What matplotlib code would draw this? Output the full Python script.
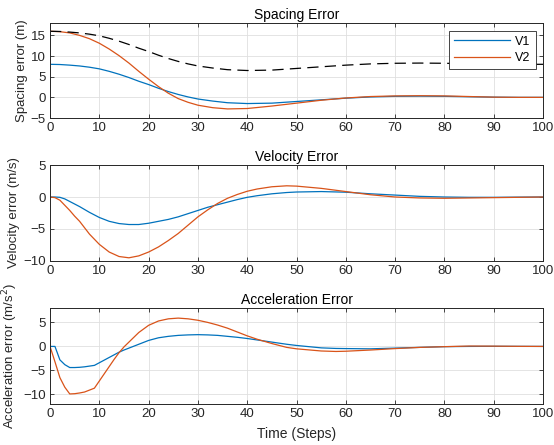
import matplotlib
matplotlib.use('Agg')
import matplotlib.pyplot as plt

plt.rcParams['font.family'] = ['Liberation Sans', 'DejaVu Sans']

blue = '#0072BD'
orange = '#D95319'

# spacing error
t_sp = [0, 2, 4, 6, 8, 10, 12, 14, 16, 18, 20, 22, 24, 26, 28, 30, 33, 36, 40, 45,
        50, 55, 60, 65, 70, 75, 80, 85, 90, 95, 100]
sp_v1 = [8.0, 7.95, 7.8, 7.6, 7.3, 6.9, 6.3, 5.6, 4.8, 3.9, 3.1, 2.2, 1.4, 0.7, 0.1, -0.4,
         -0.9, -1.3, -1.5, -1.4, -1.0, -0.6, -0.2, 0.1, 0.25, 0.3, 0.25, 0.15, 0.05, 0.0, 0.0]
sp_v2 = [16.0, 15.9, 15.6, 15.0, 14.2, 13.1, 11.7, 10.1, 8.3, 6.3, 4.4, 2.6, 1.0, -0.3, -1.2, -1.9,
         -2.5, -2.8, -2.7, -2.1, -1.4, -0.7, -0.15, 0.2, 0.35, 0.4, 0.35, 0.2, 0.05, 0.0, 0.0]
sp_ref = [16.0, 15.95, 15.8, 15.6, 15.3, 14.9, 14.3, 13.6, 12.8, 11.9, 11.1, 10.2, 9.4, 8.7, 8.1, 7.6,
          7.1, 6.7, 6.5, 6.6, 7.0, 7.4, 7.8, 8.1, 8.25, 8.3, 8.25, 8.15, 8.05, 8.0, 8.0]

# velocity error
t_v = [0, 1, 2, 3, 4, 5, 6, 8, 10, 12, 14, 16, 18, 20, 22, 24, 26, 28, 30, 32, 34, 36, 38,
       40, 42, 45, 48, 50, 55, 60, 65, 70, 75, 80, 85, 90, 95, 100]
v_v1 = [0, 0, -0.05, -0.3, -0.7, -1.1, -1.5, -2.4, -3.2, -3.8, -4.15, -4.3, -4.3, -4.1, -3.8,
        -3.5, -3.1, -2.6, -2.1, -1.6, -1.2, -0.8, -0.4, -0.05, 0.2, 0.5, 0.7, 0.78, 0.85, 0.75,
        0.5, 0.3, 0.1, 0.0, -0.05, -0.05, -0.02, 0]
v_v2 = [0, -0.1, -0.5, -1.3, -2.1, -3.0, -3.8, -5.8, -7.4, -8.6, -9.3, -9.5, -9.2, -8.6, -7.8,
        -6.8, -5.7, -4.4, -3.1, -2.0, -1.0, -0.2, 0.4, 0.9, 1.25, 1.6, 1.75, 1.7, 1.35, 0.85,
        0.35, 0.0, -0.15, -0.2, -0.15, -0.1, -0.05, 0]

# acceleration error
t_a = [0, 1, 2, 3, 4, 5, 6, 7, 8, 9, 10, 11, 12, 13, 14, 15, 16, 18, 20, 22, 24, 26, 28, 30,
       32, 34, 36, 38, 40, 42, 45, 48, 50, 55, 58, 60, 65, 70, 75, 80, 85, 90, 95, 100]
a_v1 = [0, 0, -2.8, -3.8, -4.4, -4.4, -4.35, -4.25, -4.1, -3.95, -3.4, -2.85, -2.3, -1.75,
        -1.2, -0.75, -0.35, 0.45, 1.25, 1.8, 2.1, 2.3, 2.4, 2.45, 2.4, 2.3, 2.1, 1.9, 1.65,
        1.35, 0.9, 0.45, 0.2, -0.3, -0.42, -0.45, -0.5, -0.35, -0.2, -0.05, 0.0, 0.02, 0.01, 0]
a_v2 = [0, -3.2, -6.5, -8.5, -9.9, -9.85, -9.7, -9.5, -9.1, -8.7, -7.2, -5.7, -4.2, -2.7,
        -1.3, -0.1, 0.9, 2.9, 4.4, 5.3, 5.75, 5.9, 5.75, 5.45, 5.0, 4.45, 3.8, 3.0, 2.2, 1.5,
        0.6, -0.2, -0.5, -0.95, -1.05, -1.0, -0.75, -0.45, -0.2, -0.05, 0.08, 0.06, 0.02, 0]

titles = ['Spacing Error', 'Velocity Error', 'Acceleration Error']
ylabels = ['Spacing error (m)', 'Velocity error (m/s)', 'Acceleration error (m/s$^2$)']
ylims = [(-5, 18), (-10, 5), (-12, 8)]
yticks = [[-5, 0, 5, 10, 15], [-10, -5, 0, 5], [-10, -5, 0, 5]]

fig = plt.figure(figsize=(5.54, 4.45), dpi=100)
pos = [[0.0903, 0.7348, 0.890, 0.2135],
       [0.0903, 0.4135, 0.890, 0.2157],
       [0.0903, 0.0921, 0.890, 0.2157]]
axs = [fig.add_axes(p) for p in pos]

axs[0].plot(t_sp, sp_v1, color=blue, lw=0.9, label='V1')
axs[0].plot(t_sp, sp_v2, color=orange, lw=0.9, label='V2')
axs[0].plot(t_sp, sp_ref, color='black', lw=0.9, ls=(0, (9, 5)))
axs[1].plot(t_v, v_v1, color=blue, lw=0.9)
axs[1].plot(t_v, v_v2, color=orange, lw=0.9)
axs[2].plot(t_a, a_v1, color=blue, lw=0.9)
axs[2].plot(t_a, a_v2, color=orange, lw=0.9)

for i, ax in enumerate(axs):
    ax.set_xlim(0, 100)
    ax.set_ylim(*ylims[i])
    ax.set_xticks(range(0, 101, 10))
    ax.set_yticks(yticks[i])
    ax.grid(True, color='#dfdfdf', lw=0.6)
    ax.set_axisbelow(True)
    ax.tick_params(direction='in', top=True, right=True, length=3, width=0.6,
                   labelsize=9.5, colors='#262626', pad=3)
    for s in ax.spines.values():
        s.set_color('#262626')
        s.set_linewidth(0.7)
    ax.set_title(titles[i], fontsize=10, pad=3, color='#000000')
    ax.set_ylabel(ylabels[i], fontsize=9.5, color='#262626', labelpad=2)

axs[2].set_xlabel('Time (Steps)', fontsize=10, color='#262626', labelpad=5)

leg = axs[0].legend(loc='upper right', fontsize=9, handlelength=4.5, fancybox=False,
                    edgecolor='#262626', framealpha=1, borderaxespad=0.6,
                    labelspacing=0.35, borderpad=0.4, handletextpad=0.4)
leg.get_frame().set_linewidth(0.6)

fig.savefig('out.png', dpi=100)
